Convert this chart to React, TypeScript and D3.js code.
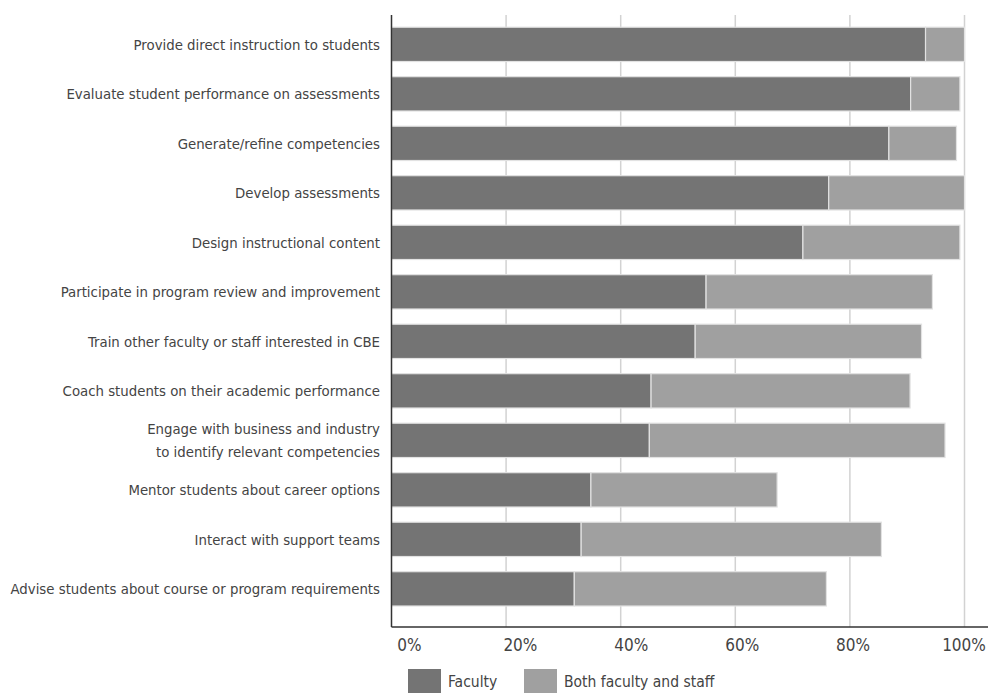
import React from "react";
import * as d3 from "d3";

const categories = [
  "Provide direct instruction to students",
  "Evaluate student performance on assessments",
  "Generate/refine competencies",
  "Develop assessments",
  "Design instructional content",
  "Participate in program review and improvement",
  "Train other faculty or staff interested in CBE",
  "Coach students on their academic performance",
  "Engage with business and industry\nto identify relevant competencies",
  "Mentor students about career options",
  "Interact with support teams",
  "Advise students about course or program requirements",
];
const faculty = [93.2, 90.6, 86.8, 76.3, 71.8, 54.9, 53.0, 45.3, 45.0, 34.8, 33.1, 31.9];
const both = [6.8, 8.6, 11.8, 23.7, 27.4, 39.5, 39.5, 45.2, 51.6, 32.5, 52.4, 44.0];
const ticks = [0, 20, 40, 60, 80, 100];
const seriesNames = ["Faculty", "Both faculty and staff"];
const colors = ["#747474", "#a0a0a0"];

const W = 989, H = 693;
const FONT = "'Liberation Sans Narrow', 'DejaVu Sans Condensed', 'Liberation Sans', sans-serif";

export default function App() {
  const x = d3.scaleLinear().domain([0, 100]).range([391.5, 964.5]);
  const xLabel = d3.scaleLinear().domain([0, 100]).range([409.5, 964]);
  const y = d3.scaleBand<number>().domain(d3.range(categories.length)).range([27.2, 606]).paddingInner(0.307).paddingOuter(0);
  const axisY = 627;
  const top = 15;
  const data = categories.map((c, i) => ({ c, i, f: faculty[i], b: both[i] }));
  const stack = d3.stack<any>().keys(["f", "b"])(data as any);

  return (
    <svg width={W} height={H} style={{ position: "absolute", left: 0, top: 0, background: "#fff" }} fontFamily={FONT}>
      {ticks.filter((t) => t > 0).map((t) => (
        <line key={t} x1={x(t)} x2={x(t)} y1={top} y2={axisY} stroke="#d2d2d2" strokeWidth={1.5} />
      ))}
      {stack.map((s, si) =>
        s.map((d, i) => (
          <rect
            key={si + "-" + i}
            x={x(d[0])}
            y={y(i)!}
            width={x(d[1]) - x(d[0])}
            height={y.bandwidth()}
            fill={colors[si]}
            stroke="#e2e2e2"
            strokeWidth={1.2}
          />
        ))
      )}
      <line x1={x(0)} x2={x(0)} y1={top} y2={axisY} stroke="#333" strokeWidth={1.5} />
      <line x1={x(0)} x2={988} y1={axisY} y2={axisY} stroke="#333" strokeWidth={1.5} />
      {categories.map((c, i) => {
        const lines = c.split("\n");
        const cy = y(i)! + y.bandwidth() / 2;
        return (
          <text key={i} x={380} y={cy} textAnchor="end" fontSize={14.8} fill="#444">
            {lines.map((l, j) => (
              <tspan key={j} x={380} y={cy + (j - (lines.length - 1) / 2) * 23} dy="0.35em">
                {l}
              </tspan>
            ))}
          </text>
        );
      })}
      {ticks.map((t) => (
        <text key={t} x={xLabel(t)} y={645} dy="0.35em" textAnchor="middle" fontSize={17} fill="#444">
          {t + "%"}
        </text>
      ))}
      {seriesNames.map((n, i) => {
        const lx = [408, 524][i];
        return (
          <g key={n}>
            <rect x={lx} y={669} width={33} height={26} fill={colors[i]} />
            <text x={lx + 40} y={682} dy="0.35em" fontSize={15.5} fill="#444">
              {n}
            </text>
          </g>
        );
      })}
    </svg>
  );
}
